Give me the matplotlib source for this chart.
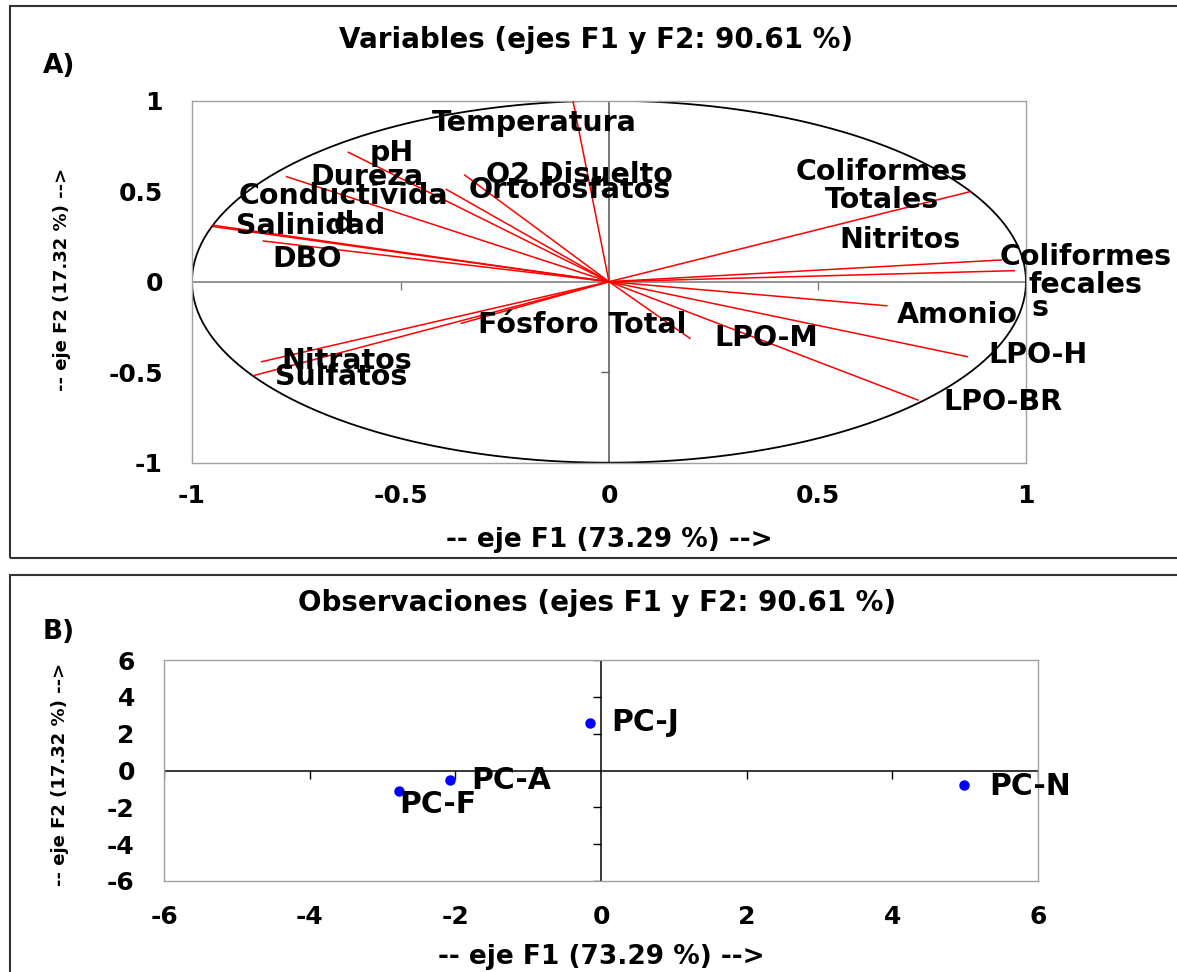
import numpy as np
import matplotlib.pyplot as plt
from matplotlib import font_manager
from matplotlib.patches import Rectangle

# variables (correlation circle, F1 / F2)
variables = ['Temperatura', 'pH', 'Dureza', 'Conductividad', 'Salinidad', 'DBO',
             'O2 Disuelto', 'Ortofosfatos', 'Coliformes Totales', 'Nitritos',
             'Coliformes fecales', 'Amonio', 'LPO-H', 'LPO-BR', 'LPO-M',
             'Fósforo Total', 'Nitratos', 'Sulfatos']
f1_var = [-0.086, -0.625, -0.773, -0.950, -0.948, -0.829, -0.346, -0.390, 0.865,
          0.941, 0.972, 0.666, 0.859, 0.741, 0.194, -0.354, -0.833, -0.853]
f2_var = [0.994, 0.715, 0.580, 0.312, 0.304, 0.225, 0.589, 0.510, 0.497,
          0.120, 0.061, -0.133, -0.414, -0.654, -0.313, -0.230, -0.442, -0.519]

# observaciones
obs = ['PC-A', 'PC-F', 'PC-J', 'PC-N']
f1_obs = [-2.08, -2.78, -0.15, 4.99]
f2_obs = [-0.52, -1.12, 2.59, -0.77]

# texto de etiquetas (como en el original, con cortes de linea)
var_text = {'Conductividad': 'Conductivida\nd', 'Coliformes Totales': 'Coliformes\nTotales',
            'Coliformes fecales': 'Coliformes\nfecales'}
# posicion de las etiquetas (centro del texto, coordenadas de datos)
lab_x = [-0.178, -0.52, -0.58, -0.636, -0.715, -0.724, -0.07, -0.094, 0.655,
         0.698, 1.142, 0.835, 1.029, 0.944, 0.377, -0.064, -0.63, -0.643]
lab_y = [0.877, 0.711, 0.578, 0.395, 0.307, 0.124, 0.588, 0.506, 0.528,
         0.229, 0.06, -0.186, -0.405, -0.665, -0.311, -0.239, -0.44, -0.527]
# desplazamiento de etiquetas de observaciones (pixeles)
obs_off = [(22, 0), (1, -13), (21, 0), (25, -2)]

plt.rcParams['font.family'] = 'DejaVu Sans'
plt.rcParams['font.weight'] = 'bold'
plt.rcParams['axes.unicode_minus'] = False

# fuente estrecha para el titulo del eje vertical (si existe)
try:
    font_manager.findfont(font_manager.FontProperties(family='Liberation Sans Narrow', weight='bold'),
                          fallback_to_default=False)
    ylab_font, ylab_size = 'Liberation Sans Narrow', 18
except Exception:
    ylab_font, ylab_size = 'DejaVu Sans', 13

W, H = 1177, 972
fig = plt.figure(figsize=(W / 100, H / 100), dpi=100)


def fx(x):
    return x / W


def fy(y):
    return 1 - y / H


# marcos de los paneles
fig.patches.append(Rectangle((fx(9.5), fy(558)), 1.1, (558 - 6.5) / H, transform=fig.transFigure,
                             fill=False, edgecolor='#333333', lw=1.5))
fig.patches.append(Rectangle((fx(9.5), fy(1100)), 1.1, (1100 - 575) / H, transform=fig.transFigure,
                             fill=False, edgecolor='#333333', lw=1.5))

fs = 18      # ticks
fs_lab = 20.5
fs_obs = 21.5

# ---------- A) variables ----------
ax1 = fig.add_axes([fx(192), fy(462.7), 834 / W, 362 / H])
ax1.set_xlim(-1, 1)
ax1.set_ylim(-1, 1)
ax1.axhline(0, color='#808080', lw=1.2, zorder=1)
ax1.axvline(0, color='#606060', lw=1.2, zorder=1)
ax1.plot([-0.5, 0.5], [0, 0], ls='none', marker=3, ms=6, mew=1, color='#808080')
ax1.plot([0, 0], [-0.5, 0.5], ls='none', marker=0, ms=6, mew=1, color='#606060')

t = np.linspace(0, 2 * np.pi, 400)
ax1.plot(np.cos(t), np.sin(t), color='black', lw=1.3, zorder=2)

for i, v in enumerate(variables):
    ax1.plot([0, f1_var[i]], [0, f2_var[i]], color='red', lw=1.1, zorder=3)
    ax1.text(lab_x[i], lab_y[i], var_text.get(v, v), ha='center', va='center',
             fontsize=fs_lab, fontweight='bold', linespacing=1.0, zorder=4, clip_on=False)
ax1.text(1.033, -0.147, 's', ha='center', va='center', fontsize=fs_lab, fontweight='bold')

ax1.set_xticks([-1, -0.5, 0, 0.5, 1])
ax1.set_xticklabels(['-1', '-0.5', '0', '0.5', '1'])
ax1.set_yticks([-1, -0.5, 0, 0.5, 1])
ax1.set_yticklabels(['-1', '-0.5', '0', '0.5', '1'])
ax1.tick_params(axis='x', length=0, labelsize=fs, pad=15)
ax1.tick_params(axis='y', length=0, labelsize=fs, pad=21)
for s in ax1.spines.values():
    s.set_color('#a0a0a0')
    s.set_linewidth(1.0)

fig.text(fx(596), fy(40), 'Variables (ejes F1 y F2: 90.61 %)', ha='center', va='center',
         fontsize=20, fontweight='bold')
fig.text(fx(43), fy(66), 'A)', ha='left', va='center', fontsize=19, fontweight='bold')
fig.text(fx(609), fy(540), '-- eje F1 (73.29 %) -->', ha='center', va='center',
         fontsize=19, fontweight='bold')
fig.text(fx(62), fy(279), '-- eje F2 (17.32 %) -->', ha='center', va='center',
         rotation=90, fontsize=ylab_size, fontweight='bold', family=[ylab_font, 'DejaVu Sans'])

# ---------- B) observaciones ----------
ax2 = fig.add_axes([fx(164), fy(881), 874 / W, 221 / H])
ax2.set_xlim(-6, 6)
ax2.set_ylim(-6, 6)
ax2.axhline(0, color='black', lw=1.1, zorder=1)
ax2.axvline(0, color='black', lw=1.1, zorder=1)
ax2.plot([-6, -4, -2, 2, 4, 6], [0] * 6, ls='none', marker=3, ms=6, mew=1, color='black')
ax2.plot([0] * 6, [-6, -4, -2, 2, 4, 6], ls='none', marker=0, ms=6, mew=1, color='black')

ax2.plot(f1_obs, f2_obs, ls='none', marker='o', ms=6.5, color='#0000ff', zorder=3)
for i, o in enumerate(obs):
    ax2.annotate(o, (f1_obs[i], f2_obs[i]), xytext=(obs_off[i][0] * 0.72, obs_off[i][1] * 0.72),
                 textcoords='offset points', ha='left', va='center', fontsize=fs_obs,
                 fontweight='bold')

ax2.set_xticks(range(-6, 7, 2))
ax2.set_yticks(range(-6, 7, 2))
ax2.tick_params(axis='x', length=0, labelsize=fs, pad=17)
ax2.tick_params(axis='y', length=0, labelsize=fs, pad=21)
for s in ax2.spines.values():
    s.set_color('#a0a0a0')
    s.set_linewidth(1.0)

fig.text(fx(597), fy(603), 'Observaciones (ejes F1 y F2: 90.61 %)', ha='center', va='center',
         fontsize=20, fontweight='bold')
fig.text(fx(43), fy(632), 'B)', ha='left', va='center', fontsize=19, fontweight='bold')
fig.text(fx(601), fy(957), '-- eje F1 (73.29 %) -->', ha='center', va='center',
         fontsize=19, fontweight='bold')
fig.text(fx(60), fy(774), '-- eje F2 (17.32 %) -->', ha='center', va='center',
         rotation=90, fontsize=ylab_size, fontweight='bold', family=[ylab_font, 'DejaVu Sans'])

fig.savefig('out.png', dpi=100)
